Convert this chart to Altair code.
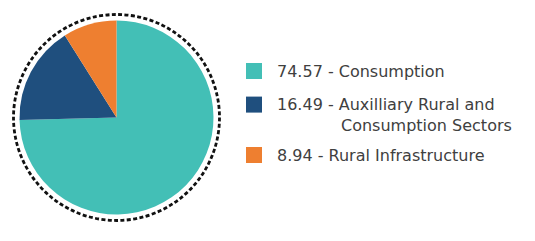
import altair as alt
import pandas as pd

labels = ["Consumption", "Auxilliary Rural and Consumption Sectors", "Rural Infrastructure"]
values = [74.57, 16.49, 8.94]
colors = ["#43BFB6", "#1F4F7E", "#EE7F30"]
line1 = ["74.57 - Consumption", "16.49 - Auxilliary Rural and", "8.94 - Rural Infrastructure"]
line2 = ["", "Consumption Sectors", ""]
slots = [0, 2, 5]

df = pd.DataFrame({"label": labels, "value": values, "order": [0, 1, 2],
                   "line1": line1, "line2": line2, "slot": slots})

color_scale = alt.Scale(domain=labels, range=colors)

pie = alt.Chart(df).mark_arc(outerRadius=97).encode(
    theta=alt.Theta("value:Q", stack=True),
    color=alt.Color("label:N", scale=color_scale, legend=None),
    order=alt.Order("order:Q"),
)

# Vega circle symbol: radius = sqrt(size) / 2  -> diameter 206
ring = alt.Chart(df.head(1)).mark_point(
    shape="circle", filled=False, stroke="#111111", strokeWidth=2.8,
    strokeDash=[4, 2.4], opacity=1
).encode(x=alt.value(116.5), y=alt.value(117.5), size=alt.value(206 * 206))

pie_panel = alt.layer(ring, pie).properties(width=233, height=235)

yenc = alt.Y("slot:Q", scale=alt.Scale(domain=[0, 5], range=[71, 155]), axis=None)

squares = alt.Chart(df).mark_square(size=256, opacity=1).encode(
    x=alt.value(21), y=yenc,
    color=alt.Color("label:N", scale=color_scale, legend=None),
)
text1 = alt.Chart(df).mark_text(
    align="left", baseline="alphabetic", dy=5.5, font="DejaVu Sans",
    fontSize=16, color="#404040"
).encode(x=alt.value(44), y=yenc, text="line1:N")
text2 = alt.Chart(df).mark_text(
    align="left", baseline="alphabetic", dy=26.5, font="DejaVu Sans",
    fontSize=16, color="#404040"
).encode(x=alt.value(108), y=yenc, text="line2:N")

legend_panel = alt.layer(squares, text1, text2).properties(width=302, height=241)

chart = alt.hconcat(pie_panel, legend_panel, spacing=0).properties(
    padding=0
).configure_view(stroke=None).configure_concat(spacing=0)

chart.save("out.html", embed_options={"renderer": "svg", "actions": False})
